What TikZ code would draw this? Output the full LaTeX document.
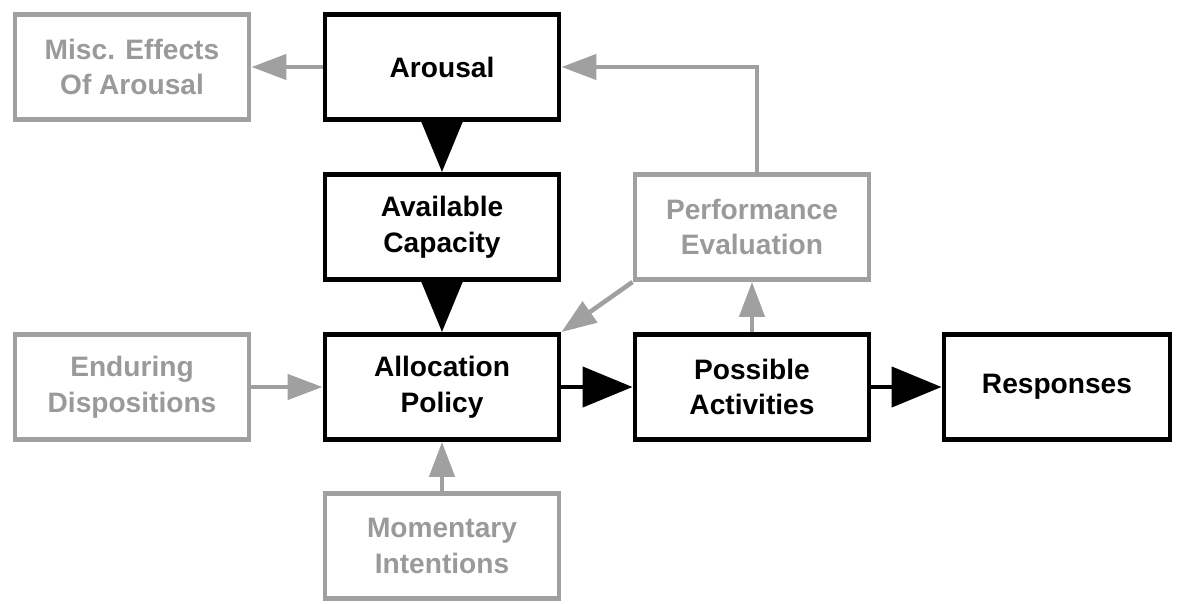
\documentclass[tikz,border=0pt]{standalone}
\usepackage{fontspec}
\setmainfont{Liberation Sans}
\usetikzlibrary{positioning,arrows.meta}
\definecolor{fgray}{HTML}{A0A0A0}
\definecolor{tgray}{HTML}{9A9A9A}

\begin{document}
\begin{tikzpicture}[
	font=\bfseries\fontsize{16}{20.4}\selectfont,
	on grid,
	node distance=3.2cm and 6.2cm,
	block/.style={draw=black, line width=2.8pt, align=center,
		minimum width=4.68cm, minimum height=2.1cm, inner sep=1mm, fill=white},
	faint/.style={block, draw=fgray, text=tgray},
	flow/.style={-{Triangle[length=10mm,width=8mm]}, line width=2.6pt, black},
	feed/.style={-{Triangle[length=7mm,width=5mm]}, line width=2.6pt, fgray},
]
\useasboundingbox (-8.84,-4.32) rectangle (14.74,7.74);

% ---- central column ----
\node[block] (alloc) at (0,0) {Allocation\\Policy};
\node[block, above=of alloc] (cap) {Available\\Capacity};
\node[block, above=of cap] (arousal) {Arousal};

% ---- right row ----
\node[block, right=of alloc] (poss) {Possible\\Activities};
\node[block, right=6.1cm of poss, minimum width=4.52cm] (resp) {Responses};
\node[faint, above=of poss] (perf) {Performance\\Evaluation};

% ---- grey inputs on the left and below ----
\node[faint, left=of arousal] (misc) {Misc. Effects\\Of Arousal};
\node[faint, left=of alloc] (endur) {Enduring\\Dispositions};
\node[faint, below=3.18cm of alloc] (moment) {Momentary\\Intentions};

% ---- main flow ----
\draw[flow] (arousal) -- (cap);
\draw[flow] (cap) -- (alloc);
\draw[flow] (alloc) -- (poss);
\draw[flow] (poss) -- (resp);

% ---- feedback and inputs ----
\draw[feed] (arousal) -- (misc);
\draw[feed] (endur) -- (alloc);
\draw[feed] (moment) -- (alloc);
\draw[feed] (poss) -- (perf);
\draw[feed] ([xshift=1mm]perf.north) |- (arousal.east);
\draw[feed] (perf.south west) -- (alloc.north east);

\end{tikzpicture}
\end{document}
